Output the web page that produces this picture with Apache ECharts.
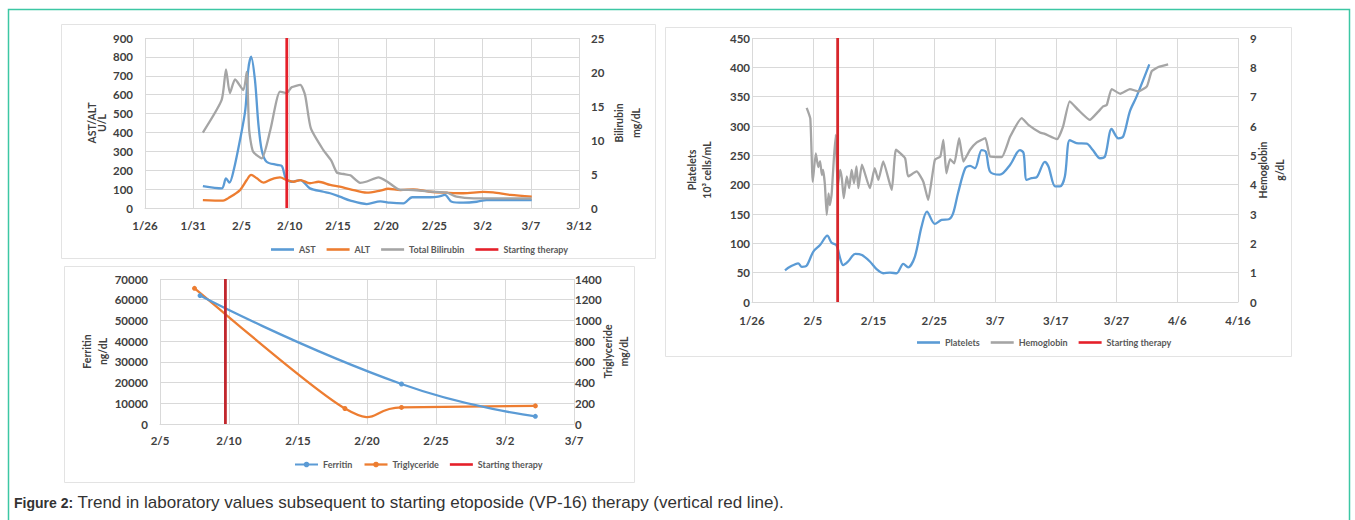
<!DOCTYPE html>
<html>
<head>
<meta charset="utf-8">
<script src="https://cdn.jsdelivr.net/npm/echarts@6/dist/echarts.min.js"></script>
<style>
  html, body { margin:0; padding:0; background:#fff; }
  #chart { position:absolute; left:0; top:0; width:1355px; height:520px; }
  #caption { position:absolute; left:14px; top:493px; font-family:"Liberation Sans", Arial, sans-serif; font-size:17px; color:#333; white-space:nowrap; }
  #caption b { font-size:14px; }
</style>
</head>
<body>
<div id="chart"></div>
<div id="caption"><b>Figure 2:</b> Trend in laboratory values subsequent to starting etoposide (VP-16) therapy (vertical red line).</div>
<script>
// ---------- DATA (x values = days since 1/26) ----------
// Panel A: liver tests
const tickLabelsA = ['1/26','1/31','2/5','2/10','2/15','2/20','2/25','3/2','3/7','3/12'];
const astDays = [6, 7.95, 8.4, 8.75, 9.2, 9.85, 10.4, 10.7, 11, 11.4, 11.75, 12.1, 12.6, 13.7, 14.2, 14.6, 15.2, 16.1, 17.1, 18.5, 19.2, 20.2, 21.3, 23, 24.4, 25.4, 26.8, 27.7, 29.6, 30.4, 31.1, 31.8, 33, 34.4, 35.4, 40.1];
const astVals = [116, 104, 157, 134, 201, 360, 519, 730, 801, 678, 448, 307, 245, 228, 222, 157, 139, 148, 104, 86, 78, 60, 39, 21, 35, 28, 25, 57, 57, 60, 69, 33, 28, 33, 42, 42];
const altDays = [6, 8.1, 8.6, 9.85, 10.55, 11, 11.6, 12.3, 13.1, 14, 14.7, 15.4, 16.1, 17.1, 18, 19.2, 20.2, 21.3, 23, 24.4, 25.2, 26.5, 27.8, 29.6, 31.3, 33, 35.1, 36.1, 37.9, 40.1];
const altVals = [42, 39, 51, 95, 148, 175, 157, 134, 152, 162, 148, 139, 148, 131, 139, 122, 113, 99, 81, 92, 102, 95, 99, 86, 81, 78, 85, 83, 69, 60];
const biliDays = [6, 7.95, 8.4, 8.8, 9.34, 10.2, 10.55, 10.8, 11.2, 12.1, 13, 14, 14.7, 15.2, 16.1, 16.6, 17.2, 18.5, 19.3, 19.9, 20.6, 21.3, 22.3, 23, 24.2, 25.1, 26.3, 27.8, 29.6, 31.3, 32.3, 34.1, 36.5, 40.1];
const biliVals = [11.1, 15.9, 20.4, 16.9, 18.9, 17.35, 20.0, 11.5, 8.3, 7.3, 11.5, 17.1, 16.9, 17.75, 18.1, 16.6, 11.7, 8.5, 7.0, 5.2, 5.0, 4.8, 3.7, 3.9, 4.5, 3.9, 2.75, 2.65, 2.4, 2.25, 1.66, 1.42, 1.42, 1.4];
const therapyDayA = 14.7;

// Panel B: ferritin / triglyceride
const tickLabelsB = ['2/5','2/10','2/15','2/20','2/25','3/2','3/7'];
const ferDays = [12.9, 27.5, 37.2];
const ferVals = [62000, 19300, 3700];
const trigDays = [12.5, 23.4, 27.5, 37.2];
const trigVals = [1310, 150, 160, 175];
const therapyDayB = 14.74;

// Panel C: platelets / hemoglobin
const tickLabelsC = ['1/26','2/5','2/15','2/25','3/7','3/17','3/27','4/6','4/16'];
const pltDays = [5.43, 6.25, 7.6, 8.2, 9, 10.1, 11.2, 12.4, 13.1, 13.9, 14.5, 15, 15.8, 17, 18.1, 19.4, 20.5, 21.6, 22.7, 23.8, 24.9, 25.7, 26.8, 27.9, 28.8, 30.1, 31.2, 32.4, 33.1, 33.9, 35.1, 35.9, 36.7, 37.8, 38.5, 39.2, 40.8, 42.5, 44.1, 44.7, 45.2, 46, 46.9, 48.2, 48.8, 49.9, 50.7, 51.5, 52.3, 53.4, 55.1, 56.1, 57.3, 58.1, 59.2, 60.3, 61.1, 62.2, 63.3, 65.4];
const pltVals = [54, 60, 66, 60, 62, 86, 97, 113, 101, 97, 75, 63, 69, 82, 80, 69, 56, 49, 50, 49, 65, 59, 77, 128, 154, 133, 140, 141, 151, 185, 228, 232, 228, 259, 256, 222, 217, 234, 259, 254, 208, 211, 213, 239, 231, 197, 197, 214, 276, 271, 270, 259, 245, 248, 295, 279, 282, 325, 350, 405];
const hgbDays = [9, 9.6, 10, 10.5, 10.9, 11.2, 11.5, 11.7, 12, 12.3, 12.6, 12.8, 13.1, 13.5, 13.8, 14.1, 14.5, 14.8, 15.1, 15.6, 16, 16.4, 16.8, 17.2, 17.5, 18.1, 19.4, 20.2, 20.8, 21.6, 23, 23.7, 25.2, 25.7, 27.1, 28.2, 29, 30.1, 31, 31.5, 32, 32.6, 33.3, 34.1, 34.8, 35.9, 37, 38.4, 39.2, 41.1, 42.5, 44.4, 45.5, 47.4, 48.2, 50.2, 51.2, 52.3, 53.7, 55.6, 57, 57.8, 58.4, 59.2, 60.6, 62.2, 63.6, 65, 65.8, 66.9, 68.5];
const hgbVals = [6.62, 6.25, 4.1, 5.07, 4.6, 4.8, 4.33, 4.5, 4.0, 2.97, 3.7, 3.3, 3.65, 4.96, 5.7, 3.93, 4.5, 4.2, 3.54, 4.28, 3.88, 4.5, 4.05, 4.62, 3.88, 4.68, 3.88, 4.56, 4.16, 4.79, 3.82, 5.19, 4.9, 4.28, 4.45, 4.1, 3.48, 4.85, 4.96, 5.53, 4.39, 4.87, 4.73, 5.59, 4.79, 5.19, 5.44, 5.59, 4.96, 4.94, 5.64, 6.27, 6.04, 5.78, 5.73, 5.55, 5.98, 6.84, 6.55, 6.21, 6.49, 6.67, 6.72, 7.26, 7.1, 7.26, 7.18, 7.35, 7.87, 8.01, 8.1];
const therapyDayC = 14.1;

// ---------- helpers ----------
const zip = (xs, ys) => xs.map((x, i) => [x, ys[i]]);
const FONT = 'Lato, "Open Sans", sans-serif';
const GRID_C = '#d9d9d9';
const LBL = { fontFamily: FONT, fontWeight: 'bold', fontSize: 11.5, color: '#404040' };
const LINE_ICON = 'path://M0,0H23V2.6H0Z';
const BLUE = '#5b9bd5', ORANGE = '#ed7d31', GRAY = '#a5a5a5';

function xAx(grid, min, max, interval, labels, margin) {
  return {
    type: 'value', gridIndex: grid, min, max, interval,
    axisLine: { show: true, lineStyle: { color: GRID_C, width: 1 } },
    axisTick: { show: false },
    splitLine: { show: true, lineStyle: { color: GRID_C, width: 1 } },
    axisLabel: Object.assign({}, LBL, { margin, formatter: v => labels[Math.round((v - min) / interval)] })
  };
}
function yAx(grid, pos, max, interval, name, gap, split, margin, lh) {
  return {
    type: 'value', gridIndex: grid, position: pos, min: 0, max, interval,
    axisLine: { show: false }, axisTick: { show: false },
    splitLine: { show: split, lineStyle: { color: GRID_C, width: 1 } },
    axisLabel: Object.assign({}, LBL, { margin, formatter: v => String(v) }),
    name, nameLocation: 'middle', nameRotate: 90, nameGap: gap, nameMoveOverlap: false,
    nameTextStyle: { fontFamily: FONT, fontWeight: 'bold', fontSize: 10.5, color: '#404040', lineHeight: lh, align: 'center', verticalAlign: 'middle' }
  };
}
function lineSeries(name, x, y, data, color, extra) {
  return Object.assign({
    name, type: 'line', xAxisIndex: x, yAxisIndex: y, data,
    smooth: 0.3, symbol: 'none', lineStyle: { color, width: 2.3 }, itemStyle: { color },
    animation: false
  }, extra || {});
}
function therapy(x, y, day, ymax, color) {
  return lineSeries('Starting therapy', x, y, [[day, 0], [day, ymax]], color, { smooth: false, lineStyle: { color, width: 2.8 }, z: 5 });
}
// Excel-style smoothed curve (Catmull-Rom through the data points, converted by the axes)
function excelCurve(x, y, days, vals, color) {
  return {
    type: 'custom', xAxisIndex: x, yAxisIndex: y, silent: true, animation: false, z: 3,
    data: zip(days, vals),
    renderItem: (params, api) => {
      if (params.dataIndex !== 0) return null;
      const P = days.map((d, i) => api.coord([d, vals[i]]));
      let path = 'M' + P[0][0] + ',' + P[0][1];
      for (let i = 0; i < P.length - 1; i++) {
        const p0 = P[Math.max(i - 1, 0)], p1 = P[i], p2 = P[i + 1], p3 = P[Math.min(i + 2, P.length - 1)];
        const c1 = [p1[0] + (p2[0] - p0[0]) / 6, p1[1] + (p2[1] - p0[1]) / 6];
        const c2 = [p2[0] - (p3[0] - p1[0]) / 6, p2[1] - (p3[1] - p1[1]) / 6];
        path += 'C' + c1[0] + ',' + c1[1] + ',' + c2[0] + ',' + c2[1] + ',' + p2[0] + ',' + p2[1];
      }
      return { type: 'path', shape: { pathData: path }, style: { fill: 'none', stroke: color, lineWidth: 2.3 } };
    }
  };
}

const legendText = { fontFamily: FONT, fontWeight: 'bold', fontSize: 9, color: '#595959' };
const legendBase = { itemWidth: 23, itemHeight: 7, itemGap: 11, padding: 0, textStyle: legendText, selectedMode: false };
const li = (name) => ({ name, icon: LINE_ICON });

const chart = echarts.init(document.getElementById('chart'), null, { renderer: 'svg', width: 1355, height: 520 });
chart.setOption({
  animation: false,
  backgroundColor: '#fff',
  graphic: [
    { type: 'rect', shape: { x: 8.5, y: 9.5, width: 1341, height: 560 }, style: { fill: 'none', stroke: '#3cc7a4', lineWidth: 1.5 }, z: -10 },
    { type: 'rect', shape: { x: 61.5, y: 24.5, width: 594, height: 234 }, style: { fill: 'none', stroke: '#e3e3e3', lineWidth: 1 }, z: -5 },
    { type: 'rect', shape: { x: 64.5, y: 266.5, width: 570, height: 216 }, style: { fill: 'none', stroke: '#e3e3e3', lineWidth: 1 }, z: -5 },
    { type: 'rect', shape: { x: 665.5, y: 27.5, width: 626, height: 329 }, style: { fill: 'none', stroke: '#e3e3e3', lineWidth: 1 }, z: -5 }
  ],
  grid: [
    { left: 145, top: 38, width: 434, height: 170 },
    { left: 160, top: 279, width: 414, height: 145 },
    { left: 752, top: 38, width: 486, height: 264 }
  ],
  legend: [
    Object.assign({}, legendBase, { left: 271, top: 245, data: [li('AST'), li('ALT'), li('Total Bilirubin'), li('Starting therapy')] }),
    Object.assign({}, legendBase, { left: 294, top: 460, data: ['Ferritin',
      { name: 'Triglyceride', lineStyle: { color: ORANGE, width: 2.3, opacity: 1 } }, li('Starting therapy')] }),
    Object.assign({}, legendBase, { left: 917, top: 338, data: [li('Platelets'), li('Hemoglobin'), li('Starting therapy')] })
  ],
  xAxis: [
    xAx(0, 0, 45, 5, tickLabelsA, 11),
    xAx(1, 10, 40, 5, tickLabelsB, 10),
    xAx(2, 0, 80, 10, tickLabelsC, 12)
  ],
  yAxis: [
    yAx(0, 'left', 900, 100, 'AST/ALT\nU/L', 48, true, 12, 10),
    yAx(0, 'right', 25, 5, 'Bilirubin\nmg/dL', 48, false, 12, 17),
    yAx(1, 'left', 70000, 10000, 'Ferritin\nng/dL', 65, true, 12, 16),
    yAx(1, 'right', 1400, 200, 'Triglyceride\nmg/dL', 42, false, 1, 16),
    yAx(2, 'left', 450, 50, 'Platelets\n10³ cells/mL', 52.5, true, 2, 15),
    yAx(2, 'right', 9, 1, 'Hemoglobin\ng/dL', 33.5, false, 12, 17)
  ],
  series: [
    lineSeries('AST', 0, 0, zip(astDays, astVals), BLUE),
    lineSeries('ALT', 0, 0, zip(altDays, altVals), ORANGE),
    lineSeries('Total Bilirubin', 0, 1, zip(biliDays, biliVals), GRAY, { smooth: 0.2 }),
    therapy(0, 0, therapyDayA, 900, '#e5202a'),

    lineSeries('Ferritin', 1, 2, zip(ferDays, ferVals), BLUE, { smooth: 0.5, symbol: 'circle', symbolSize: 5, showSymbol: true }),
    lineSeries('Triglyceride', 1, 3, zip(trigDays, trigVals), ORANGE, { symbol: 'circle', symbolSize: 5, showSymbol: true, lineStyle: { width: 0, opacity: 0 }, z: 4 }),
    excelCurve(1, 3, trigDays, trigVals, ORANGE),
    therapy(1, 2, therapyDayB, 70000, '#c1272d'),

    lineSeries('Platelets', 2, 4, zip(pltDays, pltVals), BLUE),
    lineSeries('Hemoglobin', 2, 5, zip(hgbDays, hgbVals), GRAY, { smooth: 0.15 }),
    therapy(2, 4, therapyDayC, 450, '#d7262b')
  ]
});
</script>
</body>
</html>
